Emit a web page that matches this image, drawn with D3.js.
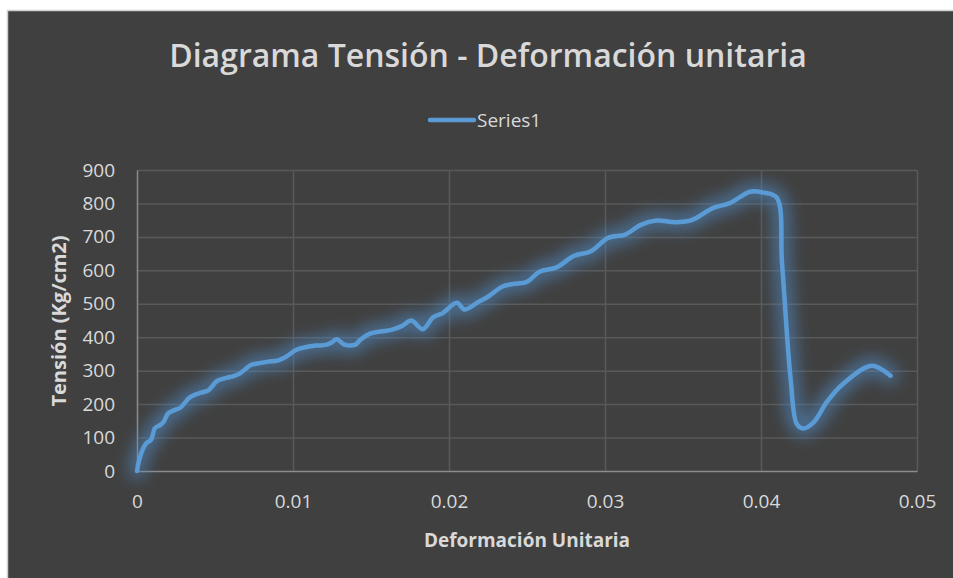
<!DOCTYPE html>
<html>
<head>
<meta charset="utf-8">
<script src="https://cdn.jsdelivr.net/npm/d3@7"></script>
<style>
html,body{margin:0;padding:0;background:#ffffff;}
svg{display:block;}
</style>
</head>
<body>
<svg id="chart" width="953" height="578"></svg>
<script>
// ---- data ----
const strain = [0, 0.00015, 0.0004, 0.0006, 0.0009, 0.00115, 0.0015, 0.0017, 0.002, 0.0024,
  0.0028, 0.0033, 0.0036, 0.0041, 0.0046, 0.0051, 0.0056, 0.0062, 0.0066, 0.0073,
  0.0078, 0.0084, 0.0090, 0.0095, 0.0102, 0.0108, 0.0115, 0.0121, 0.0125, 0.0128,
  0.0133, 0.0140, 0.0143, 0.0149, 0.0156, 0.0163, 0.0170, 0.0176, 0.0183, 0.0190,
  0.0196, 0.0205, 0.0210, 0.0219, 0.0225, 0.0234, 0.0241, 0.0250, 0.0258, 0.0269,
  0.0280, 0.0291, 0.0302, 0.0313, 0.0323, 0.0333, 0.0345, 0.0356, 0.0369, 0.0380,
  0.0393, 0.0401, 0.0410, 0.04135, 0.0419, 0.0423, 0.0427, 0.0434,
  0.0442, 0.0452, 0.0471, 0.0483];
const stress = [0, 35, 68, 83, 93, 128, 138, 147, 172, 182,
  190, 217, 226, 234, 242, 268, 277, 284, 292, 317,
  322, 327, 330, 340, 362, 370, 375, 377, 385, 394,
  378, 378, 392, 410, 417, 422, 434, 450, 424, 460,
  472, 503, 483, 506, 521, 551, 559, 566, 596, 609,
  643, 657, 697, 707, 736, 749, 744, 751, 786, 801,
  835, 833, 818, 620, 275, 140, 127, 147,
  205, 258, 315, 285];
const xTicks = [0, 0.01, 0.02, 0.03, 0.04, 0.05];
const yTicks = [0, 100, 200, 300, 400, 500, 600, 700, 800, 900];
const titleText = "Diagrama Tensión - Deformación unitaria";
const seriesName = "Series1";
const xTitle = "Deformación Unitaria";
const yTitle = "Tensión (Kg/cm2)";

const points = strain.map((s, i) => ({x: s, y: stress[i]}));

const svg = d3.select("#chart");
const W = 953, H = 578;
const plot = {left: 137, right: 917, top: 170, bottom: 471};
const lineColor = "#5b9bd5";
const textColor = "#d9d9d9";

// panel
svg.append("rect").attr("x", 7.5).attr("y", 10.5).attr("width", W).attr("height", H)
  .attr("fill", "#404040").attr("stroke", "#d0d0d0").attr("stroke-width", 1.5);

const x = d3.scaleLinear().domain([0, 0.05]).range([plot.left, plot.right]);
const y = d3.scaleLinear().domain([0, 900]).range([plot.bottom, plot.top]);

// glow filter
const defs = svg.append("defs");
const f = defs.append("filter").attr("id", "glow").attr("filterUnits", "userSpaceOnUse")
  .attr("x", 0).attr("y", 0).attr("width", W).attr("height", H);
f.append("feGaussianBlur").attr("in", "SourceGraphic").attr("stdDeviation", 8).attr("result", "b");
f.append("feComponentTransfer").attr("in", "b").attr("result", "b2")
  .append("feFuncA").attr("type", "linear").attr("slope", 0.7);
const m = f.append("feMerge");
m.append("feMergeNode").attr("in", "b2");

// grid
const grid = svg.append("g");
grid.selectAll("line.h").data(yTicks.filter(d => d > 0)).join("line")
  .attr("x1", plot.left).attr("x2", plot.right)
  .attr("y1", d => y(d) + 0.5).attr("y2", d => y(d) + 0.5)
  .attr("stroke", "#595959").attr("stroke-width", 1.5);
grid.selectAll("line.v").data(xTicks.filter(d => d > 0)).join("line")
  .attr("y1", plot.top).attr("y2", plot.bottom)
  .attr("x1", d => x(d) + 0.5).attr("x2", d => x(d) + 0.5)
  .attr("stroke", "#595959").attr("stroke-width", 1.5);

// axes
const xAxis = d3.axisBottom(x).tickValues(xTicks).tickSize(0).tickPadding(24)
  .tickFormat(d => d === 0 ? "0" : d3.format(".2f")(d));
const gx = svg.append("g").attr("transform", `translate(0,${plot.bottom})`).call(xAxis);
gx.select(".domain").attr("stroke", "#8c8c8c").attr("stroke-width", 1.5);
gx.selectAll("text").attr("fill", textColor).attr("font-family", "Open Sans")
  .attr("font-size", 19);

const yAxis = d3.axisLeft(y).tickValues(yTicks).tickSize(0).tickPadding(22);
const gy = svg.append("g").attr("transform", `translate(${plot.left},0)`).call(yAxis);
gy.select(".domain").attr("stroke", "#8c8c8c").attr("stroke-width", 1.5);
gy.selectAll("text").attr("fill", textColor).attr("font-family", "Open Sans")
  .attr("font-size", 19);

// line
const line = d3.line().x(d => x(d.x)).y(d => y(d.y)).curve(d3.curveCatmullRom.alpha(0.5));
svg.append("path").datum(points).attr("d", line).attr("fill", "none")
  .attr("stroke", "#4f86bd").attr("stroke-width", 16).attr("filter", "url(#glow)")
  .attr("stroke-linejoin", "round").attr("stroke-linecap", "round");
svg.append("path").datum(points).attr("d", line).attr("fill", "none")
  .attr("stroke", lineColor).attr("stroke-width", 4.5)
  .attr("stroke-linejoin", "round").attr("stroke-linecap", "round");

// title
svg.append("text").attr("x", 488).attr("y", 67).attr("text-anchor", "middle")
  .attr("font-family", "Open Sans").attr("font-weight", 600).attr("font-size", 32)
  .attr("fill", textColor).text(titleText);

// legend
svg.append("line").attr("x1", 430).attr("x2", 474).attr("y1", 120).attr("y2", 120)
  .attr("stroke", lineColor).attr("stroke-width", 4.5).attr("stroke-linecap", "round");
svg.append("text").attr("x", 477).attr("y", 127).attr("font-family", "Open Sans")
  .attr("font-size", 19).attr("fill", textColor).text(seriesName);

// axis titles
svg.append("text").attr("x", 527).attr("y", 547).attr("text-anchor", "middle")
  .attr("font-family", "Open Sans").attr("font-weight", 700).attr("font-size", 19)
  .attr("fill", textColor).text(xTitle);
svg.append("text").attr("transform", `translate(66,321) rotate(-90)`).attr("text-anchor", "middle")
  .attr("font-family", "Open Sans").attr("font-weight", 700).attr("font-size", 20)
  .attr("fill", textColor).text(yTitle);
</script>
</body>
</html>
